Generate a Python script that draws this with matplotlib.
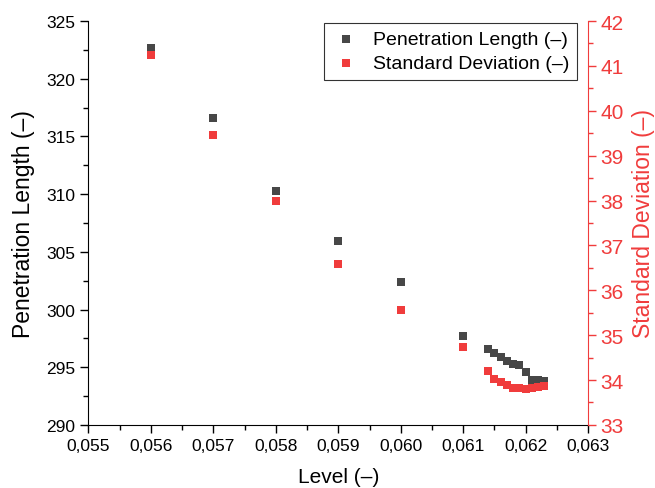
import matplotlib
matplotlib.use("Agg")
import matplotlib.pyplot as plt
from matplotlib.ticker import MultipleLocator, FuncFormatter

plt.rcParams['font.family'] = ['Liberation Sans', 'DejaVu Sans']

level = [0.056, 0.057, 0.058, 0.059, 0.060, 0.061,
         0.0614, 0.0615, 0.0616, 0.0617, 0.0618, 0.0619, 0.0620, 0.0621, 0.0622, 0.0623]
penetration = [322.7, 316.6, 310.3, 305.9, 302.4, 297.7,
               296.6, 296.2, 295.9, 295.5, 295.3, 295.2, 294.6, 293.9, 293.9, 293.8]
std_dev = [41.25, 39.47, 38.0, 36.59, 35.57, 34.74,
           34.21, 34.03, 33.95, 33.88, 33.82, 33.83, 33.80, 33.82, 33.84, 33.86]

dark = '#474747'
red = '#F03C3C'

fig = plt.figure(figsize=(6.55, 4.89), dpi=100)
ax = fig.add_axes([0.135, 0.129, 0.763, 0.826])
ax2 = ax.twinx()

h1 = ax.scatter(level, penetration, marker='s', s=40, color=dark, linewidths=0,
                label='Penetration Length (–)', zorder=3)
h2 = ax2.scatter(level, std_dev, marker='s', s=40, color=red, linewidths=0,
                 label='Standard Deviation (–)', zorder=3)

ax.set_xlim(0.055, 0.063)
ax.set_ylim(290, 325)
ax2.set_ylim(33, 42)

ax.xaxis.set_major_locator(MultipleLocator(0.001))
ax.xaxis.set_minor_locator(MultipleLocator(0.0005))
ax.yaxis.set_major_locator(MultipleLocator(5))
ax.yaxis.set_minor_locator(MultipleLocator(2.5))
ax2.yaxis.set_major_locator(MultipleLocator(1))
ax2.yaxis.set_minor_locator(MultipleLocator(0.5))

ax.xaxis.set_major_formatter(FuncFormatter(lambda v, p: f"{v:.3f}".replace('.', ',')))
ax.yaxis.set_major_formatter(FuncFormatter(lambda v, p: f"{v:.0f}"))
ax2.yaxis.set_major_formatter(FuncFormatter(lambda v, p: f"{v:.0f}"))

for a in (ax, ax2):
    a.spines['top'].set_visible(False)
ax.spines['right'].set_visible(False)
ax2.spines['left'].set_visible(False)
ax2.spines['bottom'].set_visible(False)
ax2.spines['right'].set_color(red)

ax.tick_params(axis='both', which='major', direction='out', length=6, width=1, labelsize=12.5, colors='black')
ax.tick_params(axis='both', which='minor', direction='out', length=3.5, width=1)
ax2.tick_params(axis='y', which='major', direction='out', length=6, width=1, labelsize=15, colors=red, pad=3)
ax2.tick_params(axis='y', which='minor', direction='out', length=3.5, width=1, colors=red)

ax.set_xlabel('Level (–)', fontsize=15, labelpad=10)
ax.set_ylabel('Penetration Length (–)', fontsize=16.5, labelpad=8)
ax2.set_ylabel('Standard Deviation (–)', fontsize=16.5, color=red, labelpad=6)

leg = ax2.legend(handles=[h1, h2], loc='upper right', fontsize=14, frameon=True,
                 fancybox=False, edgecolor='black', borderpad=0.4, handletextpad=0.7,
                 bbox_to_anchor=(0.978, 0.995), borderaxespad=0.0, labelspacing=0.3,
                 handlelength=1.4, markerscale=0.9)
leg.get_frame().set_linewidth(0.8)

fig.savefig('out.png', dpi=100)
